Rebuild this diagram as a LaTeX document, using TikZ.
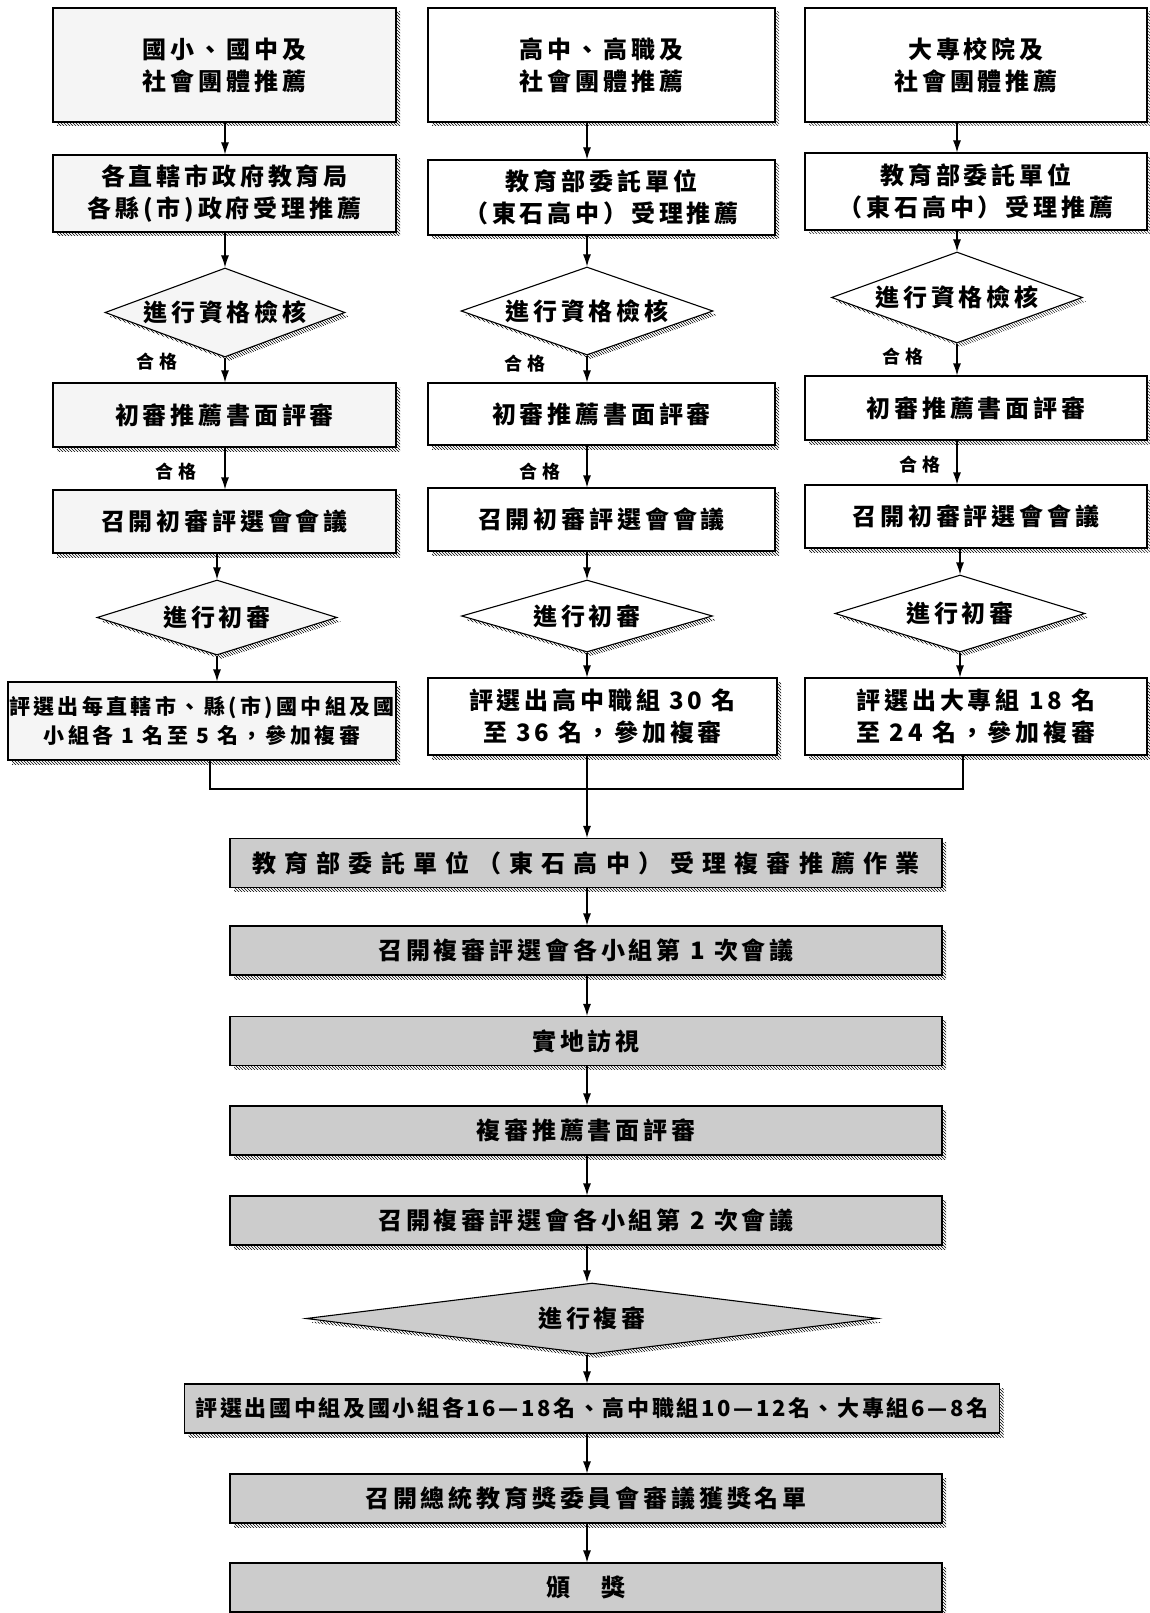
\documentclass[tikz,border=0pt]{standalone}
\usepackage{fontspec}
\newfontfamily\cjk{Noto Sans CJK TC}[LetterSpace=16]
\usepackage{tikz}
\usetikzlibrary{arrows.meta,calc,shapes.geometric,shadows,patterns}

\begin{document}
\begin{tikzpicture}[x=1pt,y=-1pt,
  shadowed/.style={general shadow={shadow xshift=4pt,shadow yshift=-4pt,pattern=north west lines}},
  procbox/.style={rectangle,draw,line width=1.1pt,fill=white,inner sep=0pt,align=center,shadowed,
    font=\cjk\fontsize{24}{32}\selectfont\bfseries},
  psbox/.style={procbox,fill=black!4},
  finalbox/.style={procbox,fill=black!20,minimum width=712pt,minimum height=49pt},
  checkdia/.style={diamond,draw,line width=1.1pt,fill=white,inner sep=0pt,shape aspect=3,shadowed,
    font=\cjk\fontsize{24}{28}\selectfont\bfseries},
  passlabel/.style={font=\cjk\fontsize{18}{20}\selectfont\bfseries\addfontfeature{LetterSpace=25},inner sep=0pt},
  flow/.style={-{Latex[length=12pt,width=8pt]},line width=1.1pt}]
\useasboundingbox (0,0) rectangle (1150,1613);

% elementary and junior high column
\node[psbox, name=ps_rec, minimum width=343pt, minimum height=114pt] at (224.5,65) {國小、國中及\\社會團體推薦};
\node[psbox, name=ps_accept, minimum width=343pt, minimum height=77pt] at (224.5,193.5) {各直轄市政府教育局\\各縣(市)政府受理推薦};
\node[checkdia, fill=black!4, name=ps_check, minimum width=240pt, minimum height=89pt] at (225,312.5) {進行資格檢核};
\node[psbox, name=ps_paper, minimum width=343pt, minimum height=64pt] at (224.5,415) {初審推薦書面評審};
\node[psbox, name=ps_meet, minimum width=343pt, minimum height=63pt] at (224.5,521.5) {召開初審評選會會議};
\node[checkdia, fill=black!4, name=ps_first, minimum width=240pt, minimum height=75pt] at (217,617.5) {進行初審};
\node[psbox, name=ps_result, minimum width=388pt, minimum height=78pt,
  font=\cjk\fontsize{21}{29}\selectfont\bfseries] at (202,721) {評選出每直轄市、縣(市)國中組及國\\小組各 1 名至 5 名，參加複審};
\node[passlabel, name=ps_pass1] at (157,362) {合格};
\node[passlabel, name=ps_pass2] at (176,472) {合格};

% senior high column
\node[procbox, name=hs_rec, minimum width=347pt, minimum height=114pt] at (601.5,65) {高中、高職及\\社會團體推薦};
\node[procbox, name=hs_accept, minimum width=347pt, minimum height=75pt] at (601.5,197.5) {教育部委託單位\\（東石高中）受理推薦};
\node[checkdia, name=hs_check, minimum width=252pt, minimum height=88pt] at (587,311) {進行資格檢核};
\node[procbox, name=hs_paper, minimum width=347pt, minimum height=62pt] at (601.5,414) {初審推薦書面評審};
\node[procbox, name=hs_meet, minimum width=347pt, minimum height=63pt] at (601.5,519.5) {召開初審評選會會議};
\node[checkdia, name=hs_first, minimum width=251pt, minimum height=72pt] at (587,616) {進行初審};
\node[procbox, name=hs_result, minimum width=349pt, minimum height=77pt] at (602.5,716.5) {評選出高中職組 30 名\\至 36 名，參加複審};
\node[passlabel, name=hs_pass1] at (525,364) {合格};
\node[passlabel, name=hs_pass2] at (540,472) {合格};

% university column
\node[procbox, name=uni_rec, minimum width=342pt, minimum height=114pt] at (976,65) {大專校院及\\社會團體推薦};
\node[procbox, name=uni_accept, minimum width=342pt, minimum height=77pt] at (976,191.5) {教育部委託單位\\（東石高中）受理推薦};
\node[checkdia, name=uni_check, minimum width=251pt, minimum height=91pt] at (957,297.5) {進行資格檢核};
\node[procbox, name=uni_paper, minimum width=342pt, minimum height=64pt] at (976,408) {初審推薦書面評審};
\node[procbox, name=uni_meet, minimum width=342pt, minimum height=63pt] at (976,516.5) {召開初審評選會會議};
\node[checkdia, name=uni_first, minimum width=250pt, minimum height=77pt] at (960,613.5) {進行初審};
\node[procbox, name=uni_result, minimum width=342pt, minimum height=77pt] at (976,716.5) {評選出大專組 18 名\\至 24 名，參加複審};
\node[passlabel, name=uni_pass1] at (903,357) {合格};
\node[passlabel, name=uni_pass2] at (920,465) {合格};

% second stage
\coordinate (join) at (587,789);
\node[finalbox, name=final_accept, font=\cjk\fontsize{24}{28}\selectfont\bfseries\addfontfeature{LetterSpace=34}] at (586,863) {教育部委託單位（東石高中）受理複審推薦作業};
\node[finalbox, name=final_meet1] at (586,950.5) {召開複審評選會各小組第 1 次會議};
\node[finalbox, name=visit] at (586,1041) {實地訪視};
\node[finalbox, name=final_paper] at (586,1130.5) {複審推薦書面評審};
\node[finalbox, name=final_meet2] at (586,1220.5) {召開複審評選會各小組第 2 次會議};
\node[checkdia, fill=black!20, name=final_review, minimum width=572pt, minimum height=71pt, shape aspect=8] at (592,1318.5) {進行複審};
\node[finalbox, name=final_result, minimum width=815pt,
  font=\cjk\fontsize{22}{26}\selectfont\bfseries\addfontfeature{LetterSpace=12}] at (592,1408.5) {評選出國中組及國小組各16—18名、高中職組10—12名、大專組6—8名};
\node[finalbox, name=committee] at (586,1498.5) {召開總統教育獎委員會審議獲獎名單};
\node[finalbox, name=award] at (586,1587.5) {頒　獎};

% arrows in the columns
\draw[flow] (ps_rec.south -| ps_check) -- (ps_accept.north -| ps_check);
\draw[flow] (ps_accept.south -| ps_check) -- (ps_check.north);
\draw[flow] (ps_check.south) -- (ps_paper.north -| ps_check);
\draw[flow] (ps_paper.south -| ps_check) -- (ps_meet.north -| ps_check);
\draw[flow] (ps_meet.south -| ps_first) -- (ps_first.north);
\draw[flow] (ps_first.south) -- (ps_result.north -| ps_first);

\draw[flow] (hs_rec.south -| hs_check) -- (hs_accept.north -| hs_check);
\draw[flow] (hs_accept.south -| hs_check) -- (hs_check.north);
\draw[flow] (hs_check.south) -- (hs_paper.north -| hs_check);
\draw[flow] (hs_paper.south -| hs_check) -- (hs_meet.north -| hs_check);
\draw[flow] (hs_meet.south -| hs_first) -- (hs_first.north);
\draw[flow] (hs_first.south) -- (hs_result.north -| hs_first);

\draw[flow] (uni_rec.south -| uni_check) -- (uni_accept.north -| uni_check);
\draw[flow] (uni_accept.south -| uni_check) -- (uni_check.north);
\draw[flow] (uni_check.south) -- (uni_paper.north -| uni_check);
\draw[flow] (uni_paper.south -| uni_check) -- (uni_meet.north -| uni_check);
\draw[flow] (uni_meet.south -| uni_first) -- (uni_first.north);
\draw[flow] (uni_first.south) -- (uni_result.north -| uni_first);

% joining the three columns
\draw[line width=1.1pt] ($(ps_result.south)+(8,0)$) |- (join) -| ($(uni_result.south)+(-13,0)$);
\draw[flow] (hs_result.south -| join) -- (final_accept.north -| join);

% arrows of the second stage
\draw[flow] (final_accept.south -| join) -- (final_meet1.north -| join);
\draw[flow] (final_meet1.south -| join) -- (visit.north -| join);
\draw[flow] (visit.south -| join) -- (final_paper.north -| join);
\draw[flow] (final_paper.south -| join) -- (final_meet2.north -| join);
\draw[flow] (final_meet2.south -| join) -- (final_review.north -| join);
\draw[flow] (final_review.south -| join) -- (final_result.north -| join);
\draw[flow] (final_result.south -| join) -- (committee.north -| join);
\draw[flow] (committee.south -| join) -- (award.north -| join);
\end{tikzpicture}
\end{document}
